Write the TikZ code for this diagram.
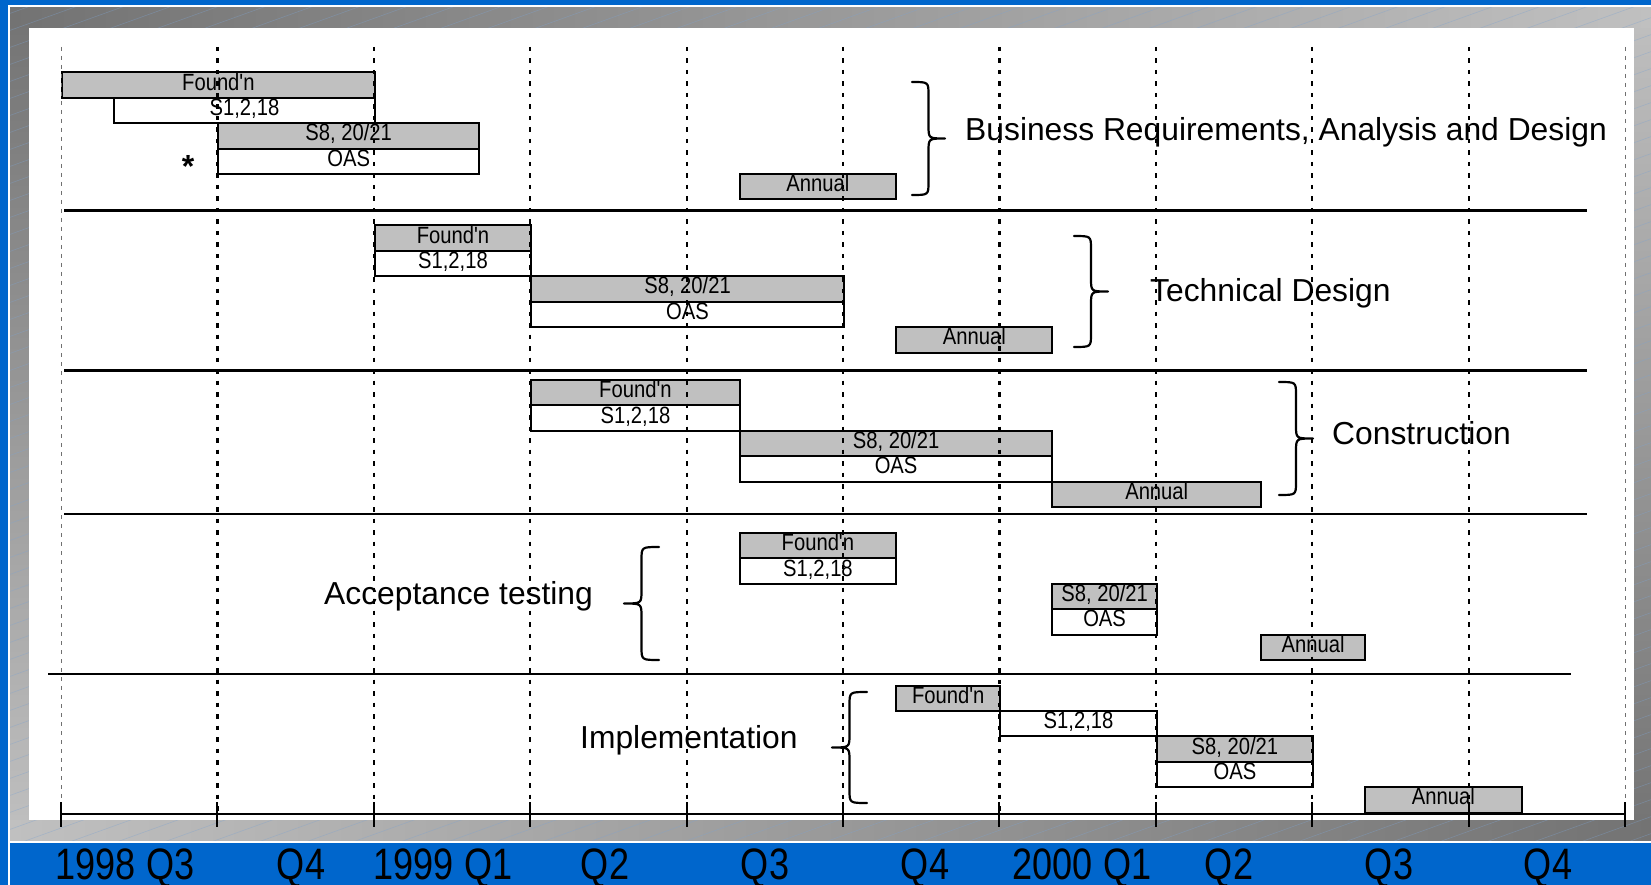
\documentclass[tikz,border=0pt]{standalone}
\usepackage{fontspec}
\setmainfont{Liberation Sans}
\newfontfamily\barfont[FakeStretch=0.86]{Liberation Sans}
\newfontfamily\axisfont[FakeStretch=0.82]{Liberation Sans}
\definecolor{bgblue}{HTML}{0066CC}
\definecolor{darkframe}{HTML}{737373}
\definecolor{lightframe}{HTML}{C0C0C0}
\definecolor{barfill}{HTML}{C0C0C0}
\definecolor{hatchcol}{HTML}{7FA3CF}
\definecolor{thingrid}{HTML}{707070}
\newcommand\CurlyBrace[4]{%
  \pgfmathsetmacro\bxm{(#1+#2)/2}\pgfmathsetmacro\bym{(#3+#4)/2}%
  \draw[bracepen] (#1,#3) .. controls (\bxm,#3) .. (\bxm,#3+13) -- (\bxm,\bym-13)
    .. controls (\bxm,\bym) .. (#2,\bym) .. controls (\bxm,\bym) .. (\bxm,\bym+13)
    -- (\bxm,#4-13) .. controls (\bxm,#4) .. (#1,#4);}
\newcommand\TaskBar[6]{%
  \node[#2, anchor=north west, minimum width={52.13*(#4-#3)}] (#1) at ({61+52.13*#3},#5) {#6};}
\begin{document}
\begin{tikzpicture}[x=1pt,y=-1pt,
  gbar/.style={draw=black, line width=2pt, fill=barfill, inner sep=0pt,
    minimum height=25.4pt, font=\barfont\fontsize{23.5}{24}\selectfont,
    text height=17pt, text depth=7pt},
  wbar/.style={gbar, fill=white},
  bracepen/.style={line width=2.2pt, line cap=round, line join=round},
  biglabel/.style={anchor=base west, inner sep=0pt, font=\fontsize{31.8}{32}\selectfont},
  axislabel/.style={anchor=base, inner sep=0pt, font=\axisfont\fontsize{44}{46}\selectfont},
  griddash/.style={line width=2.2pt, dash pattern=on 4.5pt off 7pt},
  gridthin/.style={line width=1pt, thingrid, dash pattern=on 4pt off 5pt},
  sepline/.style={line width=2.6pt},
  hatchline/.style={hatchcol, line width=0.6pt, opacity=0.4}]
\useasboundingbox (0,0) rectangle (1651,885);
% background and frame
\fill[bgblue] (0,0) rectangle (1651,885);
\shade[top color=darkframe, bottom color=lightframe] (10,7) rectangle (29,841);
\shade[top color=lightframe, bottom color=darkframe] (1634,7) rectangle (1651,841);
\shade[left color=darkframe, right color=lightframe] (10,7) rectangle (1651,28);
\shade[left color=lightframe, right color=darkframe] (10,820) rectangle (1651,841);
\begin{scope}
  \clip (10,7) rectangle (1651,841);
  \foreach \c in {0,17,...,1530} \draw[hatchline] (0,\c) -- (1651,{\c-0.36*1651});
\end{scope}
\draw[white, line width=2pt] (9,1000) -- (9,6) -- (1700,6);
\draw[white, line width=2pt] (9,842) -- (1700,842);
\fill[white] (29,28) rectangle (1634,820);
% separators
\draw[sepline] (64,210.6) -- (1587,210.6);
\draw[sepline] (64,370.7) -- (1587,370.7);
\draw[sepline] (64,513.9) -- (1587,513.9);
\draw[sepline] (48,673.9) -- (1571,673.9);
% row 1
\TaskBar{aF}{gbar}{0}{6}{71.5}{Found'n}
\TaskBar{aS}{wbar}{1}{6}{96.9}{S1,2,18}
\TaskBar{aE}{gbar}{3}{8}{122.3}{S8, 20/21}
\TaskBar{aO}{wbar}{3}{8}{147.7}{OAS}
\TaskBar{aA}{gbar}{13}{16}{173.1}{Annual}
\node[anchor=base, inner sep=0pt, font=\bfseries\fontsize{32}{32}\selectfont] (star) at (188,178) {*};
% row 2
\TaskBar{bF}{gbar}{6}{9}{224.5}{Found'n}
\TaskBar{bS}{wbar}{6}{9}{249.9}{S1,2,18}
\TaskBar{bE}{gbar}{9}{15}{275.3}{S8, 20/21}
\TaskBar{bO}{wbar}{9}{15}{300.7}{OAS}
\TaskBar{bA}{gbar}{16}{19}{326.1}{Annual}
% row 3
\TaskBar{cF}{gbar}{9}{13}{379}{Found'n}
\TaskBar{cS}{wbar}{9}{13}{404.4}{S1,2,18}
\TaskBar{cE}{gbar}{13}{19}{429.8}{S8, 20/21}
\TaskBar{cO}{wbar}{13}{19}{455.2}{OAS}
\TaskBar{cA}{gbar}{19}{23}{480.6}{Annual}
% row 4
\TaskBar{dF}{gbar}{13}{16}{532}{Found'n}
\TaskBar{dS}{wbar}{13}{16}{557.4}{S1,2,18}
\TaskBar{dE}{gbar}{19}{21}{582.8}{S8, 20/21}
\TaskBar{dO}{wbar}{19}{21}{608.2}{OAS}
\TaskBar{dA}{gbar}{23}{25}{633.6}{Annual}
% row 5
\TaskBar{eF}{gbar}{16}{18}{684.5}{Found'n}
\TaskBar{eS}{wbar}{18}{21}{709.9}{S1,2,18}
\TaskBar{eE}{gbar}{21}{24}{735.3}{S8, 20/21}
\TaskBar{eO}{wbar}{21}{24}{760.7}{OAS}
\TaskBar{eA}{gbar}{25}{28}{786.1}{Annual}
% braces
\CurlyBrace{912}{945}{82}{195}
\CurlyBrace{1074}{1108}{236}{347}
\CurlyBrace{1279}{1313}{382}{495}
\CurlyBrace{659}{624}{547}{660}
\CurlyBrace{867}{832}{692}{803}
% phase labels
\node[biglabel] (lblA) at (965,140.5) {Business Requirements, Analysis and Design};
\node[biglabel] (lblB) at (1150,301.5) {Technical Design};
\node[biglabel] (lblC) at (1332,444.5) {Construction};
\node[biglabel] (lblD) at (324,604) {Acceptance testing};
\node[biglabel] (lblE) at (580,748) {Implementation};
% grid
\draw[gridthin] (61,47) -- (61,814);
\draw[gridthin] (1625,47) -- (1625,814);
\foreach \i in {1,...,9} \draw[griddash] ({61+156.4*\i},47) -- ({61+156.4*\i},814);
% axis
\draw[line width=2pt] (61,814) -- (1625,814);
\foreach \i in {0,...,10} \draw[line width=2pt] ({61+156.4*\i},802) -- ({61+156.4*\i},827);
\node[axislabel] (q0) at (125,879) {1998 Q3};
\node[axislabel] (q1) at (301,879) {Q4};
\node[axislabel] (q2) at (443,879) {1999 Q1};
\node[axislabel] (q3) at (605,879) {Q2};
\node[axislabel] (q4) at (765,879) {Q3};
\node[axislabel] (q5) at (925,879) {Q4};
\node[axislabel] (q6) at (1082,879) {2000 Q1};
\node[axislabel] (q7) at (1229,879) {Q2};
\node[axislabel] (q8) at (1389,879) {Q3};
\node[axislabel] (q9) at (1548,879) {Q4};
\end{tikzpicture}
\end{document}
